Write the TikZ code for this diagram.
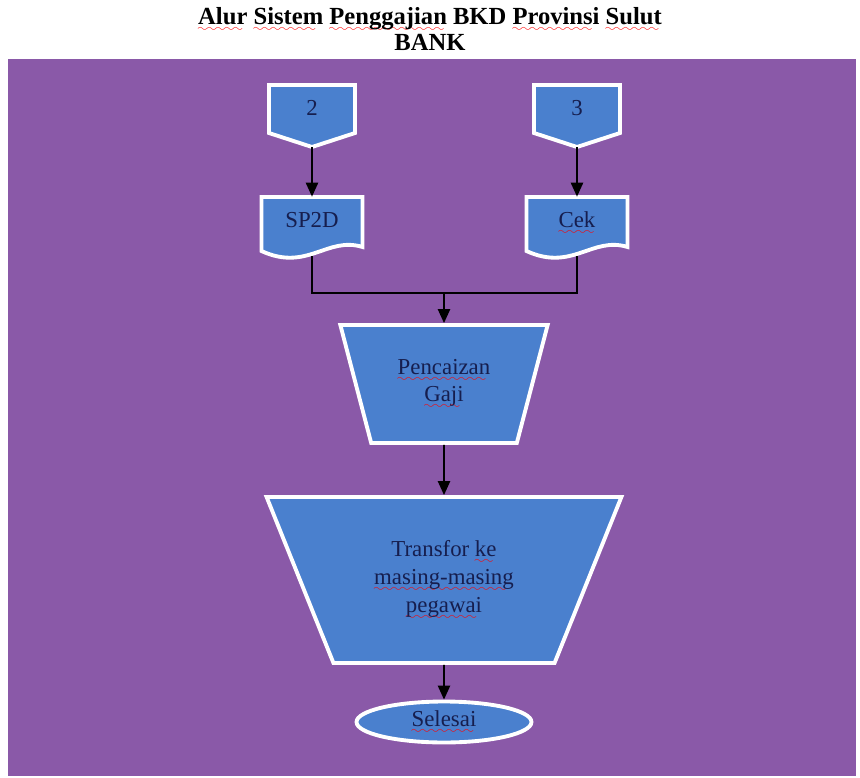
\documentclass[tikz,border=0pt]{standalone}
\usepackage{fontspec}
\setmainfont{Liberation Serif}
\usetikzlibrary{shapes.geometric,arrows.meta}

\definecolor{sheet}{RGB}{138,89,168}
\definecolor{boxblue}{RGB}{74,128,206}
\definecolor{ink}{RGB}{22,30,78}

% red wavy underline, as a spell checker marks a word
\font\wavefont=lasy6
\newcommand\sq[1]{\leavevmode\setbox0\hbox{#1}%
    \rlap{\textcolor{red}{\lower4pt\hbox to\wd0{\leaders\hbox{\wavefont\char58}\hfil}}}\box0\relax}

\begin{document}
\begin{tikzpicture}[x=0.02cm, y=0.02cm]
    \tikzstyle{box}=[fill=boxblue, draw=white, line width=2.2pt]
    \tikzstyle{slot}=[inner sep=0pt, text=ink, font=\fontsize{13}{15}\selectfont]
    \tikzstyle{arr}=[-{Triangle[length=8pt,width=7pt]}, line width=1pt]
    \tikzstyle{wire}=[line width=1pt]
    \useasboundingbox (0,0) rectangle (860,-778);
    \fill [white] (0,0) rectangle (860,-778);
    \fill [sheet] (8,-59) rectangle (856,-776);
    \node [font=\fontsize{14}{15}\selectfont\bfseries, align=center] (title) at (430,-29)
        {\sq{Alur} \sq{Sistem} \sq{Penggajian} BKD \sq{Provinsi} \sq{Sulut}\\BANK};
    % off-page connectors
    \filldraw [box] (269,-85) -- (355,-85) -- (355,-133) -- (312,-147) -- (269,-133) -- cycle;
    \filldraw [box] (534,-85) -- (620,-85) -- (620,-133) -- (577,-147) -- (534,-133) -- cycle;
    \node [slot, minimum width=1.72cm, minimum height=1.24cm, text depth=0.32cm] (two) at (312,-116) {2};
    \node [slot, minimum width=1.72cm, minimum height=1.24cm, text depth=0.32cm] (three) at (577,-116) {3};
    % documents
    \filldraw [box] (261.5,-197) -- (362.5,-197) -- (362.5,-247)
        .. controls (327,-236) and (307,-272) .. (261.5,-251) -- cycle;
    \filldraw [box] (526.5,-197) -- (627.5,-197) -- (627.5,-247)
        .. controls (592,-236) and (572,-272) .. (526.5,-251) -- cycle;
    \node [slot, minimum width=2.02cm, minimum height=1.18cm, text depth=0.26cm] (sp2d) at (312,-226.5) {SP2D};
    \node [slot, minimum width=2.02cm, minimum height=1.18cm, text depth=0.26cm] (cek) at (577,-226.5) {\sq{Cek}};
    % process and end
    \node [box, slot, trapezium, trapezium stretches, shape border rotate=180, trapezium angle=68,
        minimum width=4.16cm, minimum height=2.36cm, align=center] (gaji) at (444,-384)
        {\sq{Pencaizan}\\\sq{Gaji}};
    \node [box, slot, trapezium, trapezium stretches, shape border rotate=180, trapezium angle=62,
        minimum width=7.1cm, minimum height=3.32cm, align=center,
        font=\fontsize{13}{16}\selectfont] (transfer) at (444,-580)
        {Transfor \sq{ke}\\\sq{masing-masing}\\\sq{pegawai}};
    \node [box, slot, ellipse, minimum width=3.5cm, minimum height=0.82cm] (selesai) at (444,-722) {\sq{Selesai}};
    % connectors
    \coordinate (join) at (444,-293);
    \draw [arr] (two.south) -- (sp2d.north);
    \draw [arr] (three.south) -- (cek.north);
    \draw [wire] (sp2d.south) |- (join) -| (cek.south);
    \draw [arr] (join) -- (gaji);
    \draw [arr] (gaji) -- (transfer);
    \draw [arr] (transfer) -- (selesai);
\end{tikzpicture}
\end{document}
